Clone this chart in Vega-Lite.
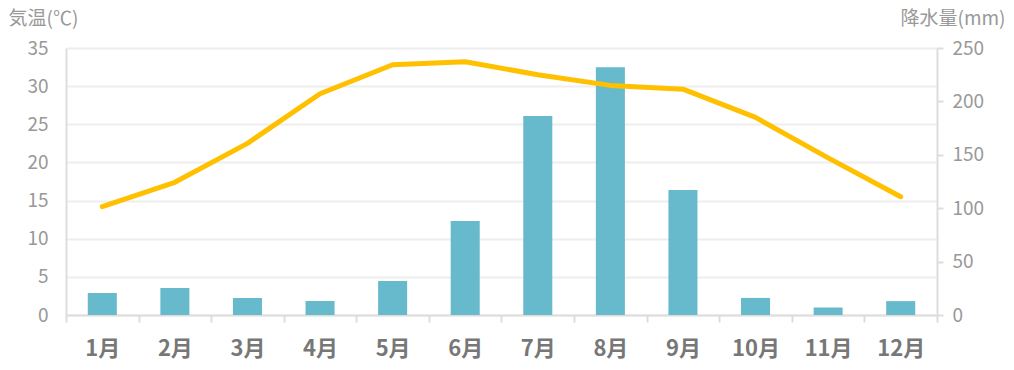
{
  "$schema": "https://vega.github.io/schema/vega-lite/v6.json",
  "autosize": "none",
  "width": 871,
  "height": 267,
  "padding": {"left": 66, "top": 48, "right": 77, "bottom": 55},
  "background": "white",
  "config": {
    "view": {"stroke": null},
    "font": "Noto Sans CJK JP"
  },
  "data": {
    "values": [
      {"month": "1月", "temp": 14.2, "precip": 20.6},
      {"month": "2月", "temp": 17.4, "precip": 25.3},
      {"month": "3月", "temp": 22.5, "precip": 15.9},
      {"month": "4月", "temp": 29.0, "precip": 13.1},
      {"month": "5月", "temp": 32.8, "precip": 31.8},
      {"month": "6月", "temp": 33.2, "precip": 88.0},
      {"month": "7月", "temp": 31.5, "precip": 186.3},
      {"month": "8月", "temp": 30.1, "precip": 232.0},
      {"month": "9月", "temp": 29.6, "precip": 117.0},
      {"month": "10月", "temp": 25.9, "precip": 16.0},
      {"month": "11月", "temp": 20.6, "precip": 7.0},
      {"month": "12月", "temp": 15.5, "precip": 13.0}
    ]
  },
  "encoding": {
    "x": {
      "field": "month",
      "type": "ordinal",
      "sort": null,
      "scale": {"paddingInner": 0, "paddingOuter": 0},
      "axis": {
        "title": null,
        "labelAngle": 0,
        "labelFontSize": 22,
        "labelFontWeight": "bold",
        "labelColor": "#777777",
        "labelPadding": 16,
        "tickBand": "extent",
        "tickSize": 7,
        "tickWidth": 2,
        "tickColor": "#dddddd",
        "domainColor": "#dddddd",
        "domainWidth": 2,
        "grid": false
      }
    }
  },
  "layer": [
    {
      "mark": {"type": "bar", "color": "#67B9CC", "width": {"band": 0.4}},
      "encoding": {
        "y": {
          "field": "precip",
          "type": "quantitative",
          "scale": {"domain": [0, 250]},
          "axis": {
            "orient": "right",
            "values": [0, 50, 100, 150, 200, 250],
            "title": "降水量(mm)",
            "titleAngle": 0,
            "titleAlign": "right",
            "titleBaseline": "middle",
            "titleX": 68,
            "titleY": -30,
            "titleFontSize": 19,
            "titleFontWeight": "normal",
            "titleColor": "#999999",
            "labelFontSize": 19,
            "labelColor": "#999999",
            "labelPadding": 9,
            "tickSize": 6,
            "tickColor": "#dddddd",
            "tickWidth": 2,
            "domainColor": "#dddddd",
            "domainWidth": 2,
            "grid": false
          }
        }
      }
    },
    {
      "mark": {"type": "line", "color": "#FFC000", "strokeWidth": 5, "strokeCap": "round", "strokeJoin": "round"},
      "encoding": {
        "y": {
          "field": "temp",
          "type": "quantitative",
          "scale": {"domain": [0, 35]},
          "axis": {
            "orient": "left",
            "values": [0, 5, 10, 15, 20, 25, 30, 35],
            "title": "気温(℃)",
            "titleAngle": 0,
            "titleAlign": "left",
            "titleBaseline": "middle",
            "titleX": -58,
            "titleY": -30,
            "titleFontSize": 19,
            "titleFontWeight": "normal",
            "titleColor": "#999999",
            "labelFontSize": 19,
            "labelColor": "#999999",
            "labelPadding": 18,
            "ticks": false,
            "domainColor": "#dddddd",
            "domainWidth": 2,
            "grid": true,
            "gridColor": "#eeeeee",
            "gridWidth": 2
          }
        }
      }
    }
  ],
  "resolve": {"scale": {"y": "independent"}}
}
